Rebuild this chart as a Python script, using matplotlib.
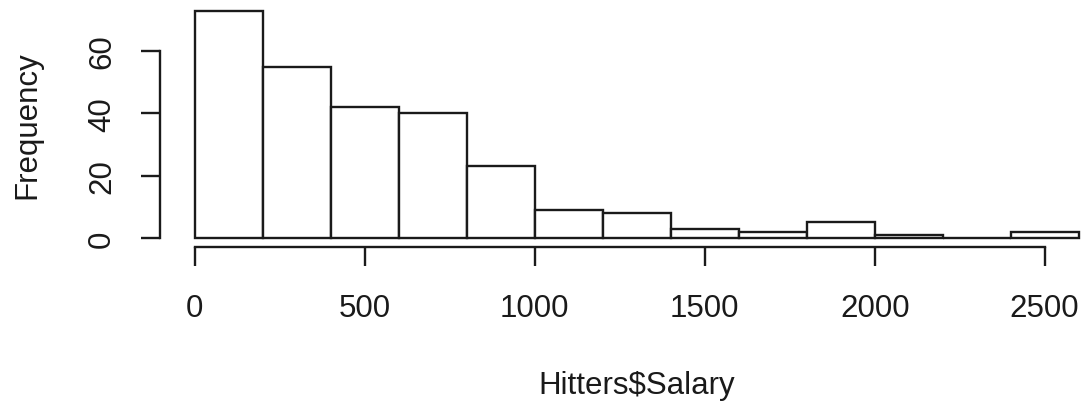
import numpy as np
import matplotlib.pyplot as plt

# histogram of Hitters$Salary (bins of width 200, thousands of dollars)
bin_edges = np.arange(0, 2601, 200)
counts = [73, 55, 42, 40, 23, 9, 8, 3, 2, 5, 1, 0, 2]
x_ticks = [0, 500, 1000, 1500, 2000, 2500]
y_ticks = [0, 20, 40, 60]

plt.rcParams['font.family'] = ['Liberation Sans', 'DejaVu Sans']
plt.rcParams['font.size'] = 22.5

fig = plt.figure(figsize=(10.84, 4.02), dpi=100)
# plot region runs past the right edge of the figure
ax = fig.add_axes([0.1472, 0.3828, 0.8805, 0.6112])

ax.bar(bin_edges[:-1], counts, width=200, align='edge',
       facecolor='white', edgecolor='#1a1a1a', linewidth=1.7)

# R-style axis range: data range extended by 4% on each side
xmin, xmax = 0, 2600
ymin, ymax = 0, max(counts)
xpad = 0.04 * (xmax - xmin)
ypad = 0.04 * (ymax - ymin)
ax.set_xlim(xmin - xpad, xmax + xpad)
ax.set_ylim(ymin - ypad, ymax + ypad)

for side in ['top', 'right']:
    ax.spines[side].set_visible(False)
ax.spines['left'].set_bounds(y_ticks[0], y_ticks[-1])
ax.spines['bottom'].set_bounds(x_ticks[0], x_ticks[-1])
for side in ['left', 'bottom']:
    ax.spines[side].set_linewidth(1.7)
    ax.spines[side].set_color('#1a1a1a')

ax.set_xticks(x_ticks)
ax.set_yticks(y_ticks)
ax.set_yticklabels([str(v) for v in y_ticks], rotation=90, va='center')
ax.tick_params(direction='out', length=13.7, width=1.7, color='#1a1a1a',
               labelcolor='#1a1a1a')
ax.tick_params(axis='x', pad=19)
ax.tick_params(axis='y', pad=17)

ax.set_xlabel('Hitters$Salary', color='#1a1a1a', labelpad=34)
ax.set_ylabel('Frequency', color='#1a1a1a', labelpad=32)

fig.savefig('out.png', dpi=100)
